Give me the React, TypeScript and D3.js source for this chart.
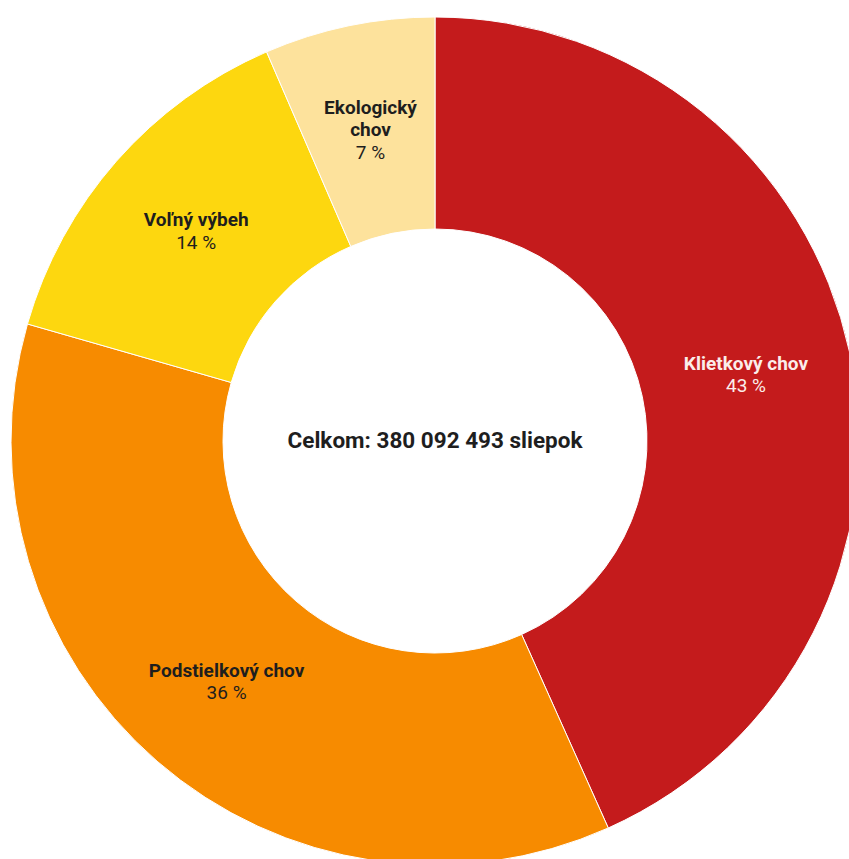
import React from "react";
import * as d3 from "d3";

const categories = ["Klietkový chov", "Podstielkový chov", "Voľný výbeh", "Ekologický chov"];
const values = [43.3, 36.15, 14.05, 6.5];
const percentLabels = ["43 %", "36 %", "14 %", "7 %"];
const nameLines = [["Klietkový chov"], ["Podstielkový chov"], ["Voľný výbeh"], ["Ekologický", "chov"]];
const colors = ["#C41B1C", "#F78B00", "#FDD70F", "#FDE29C"];
const textColors = ["#FBEDEA", "#1E1E1E", "#1E1E1E", "#1E1E1E"];
const totalLabel = "Celkom: 380 092 493 sliepok";

export default function App() {
  const W = 849, H = 859;
  const cx = 435, cy = 441, R = 424, r = 212;
  const data = categories.map((c, i) => ({ c, v: values[i], i }));
  const pie = d3.pie<any>().value((d) => d.v).sort(null);
  const arcs = pie(data);
  const arc = d3.arc<any>().innerRadius(r).outerRadius(R);
  const lh = 22.5;
  return (
    <svg width={W} height={H} style={{ position: "absolute", left: 0, top: 0, background: "#fff" }}
      fontFamily="Roboto, sans-serif">
      <g transform={`translate(${cx},${cy})`}>
        {arcs.map((a, i) => (
          <path key={i} d={arc(a) || ""} fill={colors[i]} stroke="#fff" strokeWidth={1} />
        ))}
        {arcs.map((a, i) => {
          const [x, y] = arc.centroid(a);
          const lines = nameLines[i];
          const n = lines.length + 1;
          const y0 = y - ((n - 1) * lh) / 2;
          return (
            <g key={"t" + i} fill={textColors[i]} textAnchor="middle" fontSize={19}>
              {lines.map((l, j) => (
                <text key={j} x={x} y={y0 + j * lh} dy="0.35em" fontWeight="bold">{l}</text>
              ))}
              <text x={x} y={y0 + lines.length * lh} dy="0.35em">{percentLabels[i]}</text>
            </g>
          );
        })}
        <text x={0} y={-1} dy="0.35em" textAnchor="middle" fontSize={22.5} fontWeight="bold" fill="#1E1E1E">
          {totalLabel}
        </text>
      </g>
    </svg>
  );
}
